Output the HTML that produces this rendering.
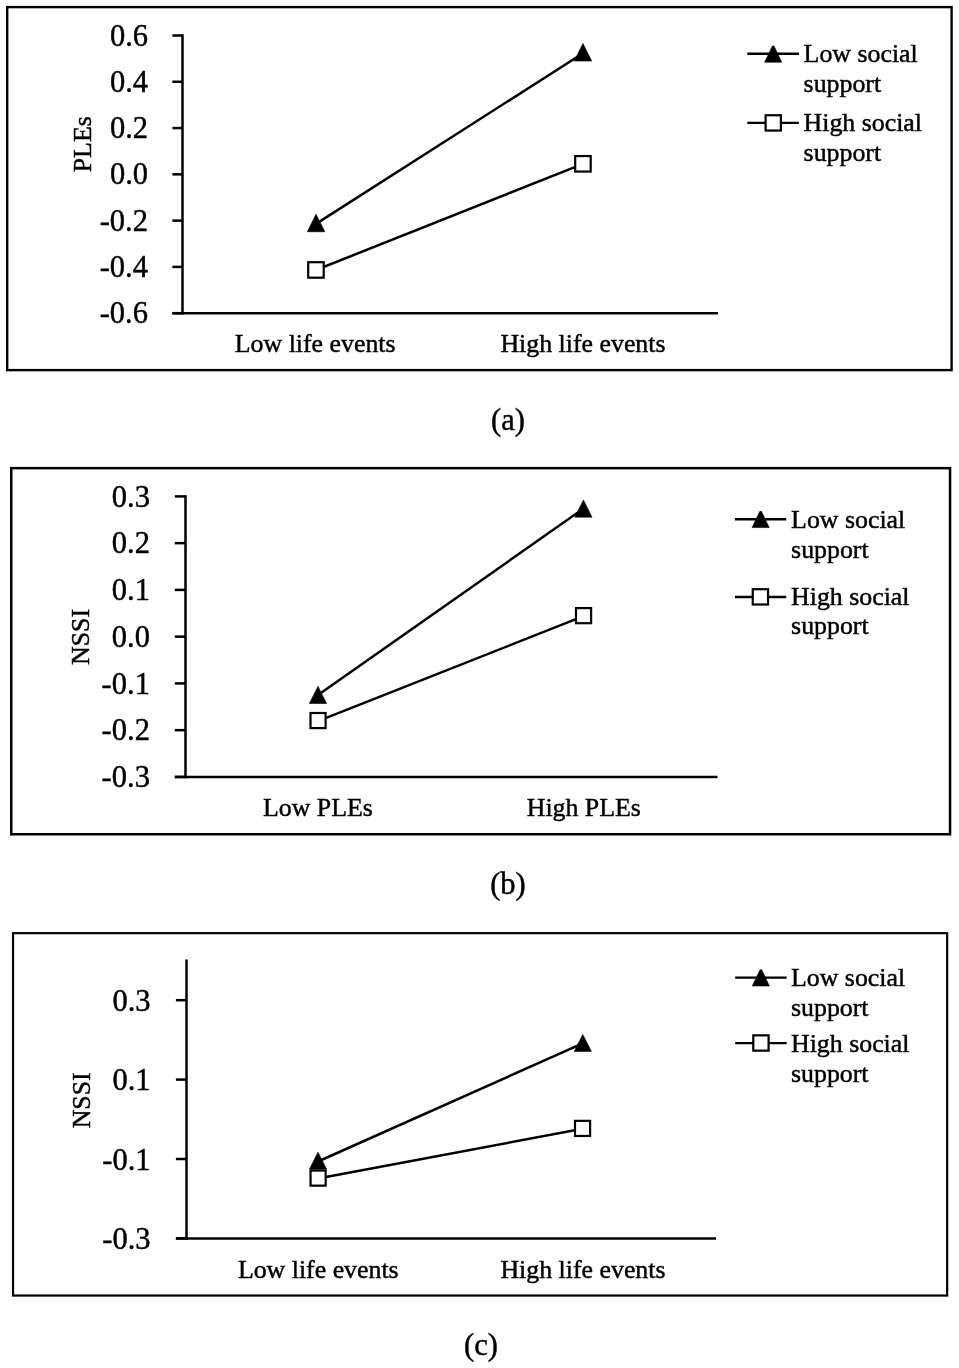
<!DOCTYPE html>
<html><head><meta charset="utf-8"><title>Simple slopes of social support</title>
<style>
html,body{margin:0;padding:0;background:#fff;}
svg{display:block;}
text{font-family:"Liberation Serif","Times New Roman",serif;fill:#000;stroke:#000;stroke-width:0.45px;}
</style></head>
<body>
<svg width="959" height="1368" viewBox="0 0 959 1368">
<rect width="959" height="1368" fill="#fff"/>
<rect x="7.2" y="7.1" width="944.40" height="363.00" fill="none" stroke="#000" stroke-width="2.4"/>
<line x1="182.50" y1="34.30" x2="182.50" y2="314.45" stroke="#000" stroke-width="2.5"/>
<line x1="172.40" y1="313.20" x2="718.00" y2="313.20" stroke="#000" stroke-width="2.5"/>
<line x1="172.40" y1="35.50" x2="182.50" y2="35.50" stroke="#000" stroke-width="2.5"/>
<text x="148.00" y="45.60" text-anchor="end" font-size="30.5">0.6</text>
<line x1="172.40" y1="81.78" x2="182.50" y2="81.78" stroke="#000" stroke-width="2.5"/>
<text x="148.00" y="91.88" text-anchor="end" font-size="30.5">0.4</text>
<line x1="172.40" y1="128.06" x2="182.50" y2="128.06" stroke="#000" stroke-width="2.5"/>
<text x="148.00" y="138.16" text-anchor="end" font-size="30.5">0.2</text>
<line x1="172.40" y1="174.34" x2="182.50" y2="174.34" stroke="#000" stroke-width="2.5"/>
<text x="148.00" y="184.44" text-anchor="end" font-size="30.5">0.0</text>
<line x1="172.40" y1="220.62" x2="182.50" y2="220.62" stroke="#000" stroke-width="2.5"/>
<text x="148.00" y="230.72" text-anchor="end" font-size="30.5">-0.2</text>
<line x1="172.40" y1="266.90" x2="182.50" y2="266.90" stroke="#000" stroke-width="2.5"/>
<text x="148.00" y="277.00" text-anchor="end" font-size="30.5">-0.4</text>
<line x1="172.40" y1="313.18" x2="182.50" y2="313.18" stroke="#000" stroke-width="2.5"/>
<text x="148.00" y="323.28" text-anchor="end" font-size="30.5">-0.6</text>
<text transform="translate(90.5,144.25) rotate(-90)" text-anchor="middle" font-size="25.85">PLEs</text>
<line x1="316.00" y1="223.90" x2="583.00" y2="53.20" stroke="#000" stroke-width="2.5"/>
<polygon points="307.30,231.75 316.05,214.15 324.80,231.75" fill="#000" stroke="#000" stroke-width="0.6" stroke-linejoin="round"/>
<polygon points="574.20,61.05 582.95,43.45 591.70,61.05" fill="#000" stroke="#000" stroke-width="0.6" stroke-linejoin="round"/>
<line x1="316.00" y1="270.00" x2="583.00" y2="163.80" stroke="#000" stroke-width="2.5"/>
<rect x="308.20" y="262.20" width="15.50" height="15.50" fill="#fff" stroke="#000" stroke-width="2.2"/>
<rect x="575.20" y="156.05" width="15.50" height="15.50" fill="#fff" stroke="#000" stroke-width="2.2"/>
<text x="315.20" y="351.60" text-anchor="middle" font-size="25.85">Low life events</text>
<text x="583.00" y="351.60" text-anchor="middle" font-size="25.85">High life events</text>
<line x1="747.30" y1="53.80" x2="798.90" y2="53.80" stroke="#000" stroke-width="2.4"/>
<polygon points="764.65,62.20 772.40,46.00 774.00,46.00 781.75,62.20" fill="#000" stroke="#000" stroke-width="0.6" stroke-linejoin="round"/>
<line x1="747.30" y1="122.90" x2="798.90" y2="122.90" stroke="#000" stroke-width="2.4"/>
<rect x="765.60" y="115.25" width="15.30" height="15.30" fill="#fff" stroke="#000" stroke-width="2.2"/>
<text x="803.60" y="61.60" font-size="25.85">Low social</text>
<text x="803.60" y="92.00" font-size="25.85">support</text>
<text x="803.60" y="131.00" font-size="25.85">High social</text>
<text x="803.60" y="161.00" font-size="25.85">support</text>
<text x="508.00" y="429.50" text-anchor="middle" font-size="30.5">(a)</text>
<rect x="11.25" y="468.15" width="938.80" height="366.10" fill="none" stroke="#000" stroke-width="2.5"/>
<line x1="185.50" y1="495.15" x2="185.50" y2="778.15" stroke="#000" stroke-width="2.5"/>
<line x1="174.80" y1="776.90" x2="717.50" y2="776.90" stroke="#000" stroke-width="2.5"/>
<line x1="174.80" y1="496.40" x2="185.50" y2="496.40" stroke="#000" stroke-width="2.5"/>
<text x="149.90" y="506.60" text-anchor="end" font-size="30.5">0.3</text>
<line x1="174.80" y1="543.15" x2="185.50" y2="543.15" stroke="#000" stroke-width="2.5"/>
<text x="149.90" y="553.35" text-anchor="end" font-size="30.5">0.2</text>
<line x1="174.80" y1="589.90" x2="185.50" y2="589.90" stroke="#000" stroke-width="2.5"/>
<text x="149.90" y="600.10" text-anchor="end" font-size="30.5">0.1</text>
<line x1="174.80" y1="636.65" x2="185.50" y2="636.65" stroke="#000" stroke-width="2.5"/>
<text x="149.90" y="646.85" text-anchor="end" font-size="30.5">0.0</text>
<line x1="174.80" y1="683.40" x2="185.50" y2="683.40" stroke="#000" stroke-width="2.5"/>
<text x="149.90" y="693.60" text-anchor="end" font-size="30.5">-0.1</text>
<line x1="174.80" y1="730.15" x2="185.50" y2="730.15" stroke="#000" stroke-width="2.5"/>
<text x="149.90" y="740.35" text-anchor="end" font-size="30.5">-0.2</text>
<line x1="174.80" y1="776.90" x2="185.50" y2="776.90" stroke="#000" stroke-width="2.5"/>
<text x="149.90" y="787.10" text-anchor="end" font-size="30.5">-0.3</text>
<text transform="translate(88.9,636.9) rotate(-90)" text-anchor="middle" font-size="25.85">NSSI</text>
<line x1="318.00" y1="694.90" x2="583.50" y2="508.60" stroke="#000" stroke-width="2.5"/>
<polygon points="309.40,703.50 318.00,686.30 326.60,703.50" fill="#000" stroke="#000" stroke-width="0.6" stroke-linejoin="round"/>
<polygon points="574.85,517.15 583.45,499.95 592.05,517.15" fill="#000" stroke="#000" stroke-width="0.6" stroke-linejoin="round"/>
<line x1="318.00" y1="721.10" x2="583.50" y2="616.20" stroke="#000" stroke-width="2.5"/>
<rect x="310.50" y="713.00" width="15.10" height="15.10" fill="#fff" stroke="#000" stroke-width="2.2"/>
<rect x="576.00" y="608.10" width="15.10" height="15.10" fill="#fff" stroke="#000" stroke-width="2.2"/>
<text x="317.90" y="815.60" text-anchor="middle" font-size="25.85">Low PLEs</text>
<text x="583.80" y="815.60" text-anchor="middle" font-size="25.85">High PLEs</text>
<line x1="734.90" y1="519.20" x2="786.20" y2="519.20" stroke="#000" stroke-width="2.4"/>
<polygon points="752.10,527.55 759.85,511.35 761.45,511.35 769.20,527.55" fill="#000" stroke="#000" stroke-width="0.6" stroke-linejoin="round"/>
<line x1="734.90" y1="597.00" x2="786.20" y2="597.00" stroke="#000" stroke-width="2.4"/>
<rect x="752.75" y="589.20" width="15.30" height="15.30" fill="#fff" stroke="#000" stroke-width="2.2"/>
<text x="791.10" y="527.80" font-size="25.85">Low social</text>
<text x="791.10" y="557.50" font-size="25.85">support</text>
<text x="791.10" y="605.20" font-size="25.85">High social</text>
<text x="791.10" y="634.40" font-size="25.85">support</text>
<text x="508.00" y="894.10" text-anchor="middle" font-size="30.5">(b)</text>
<rect x="13.05" y="933.15" width="934.10" height="362.40" fill="none" stroke="#000" stroke-width="2.2"/>
<line x1="186.50" y1="959.40" x2="186.50" y2="1239.65" stroke="#000" stroke-width="2.5"/>
<line x1="175.90" y1="1238.40" x2="716.00" y2="1238.40" stroke="#000" stroke-width="2.5"/>
<line x1="175.90" y1="1000.20" x2="186.50" y2="1000.20" stroke="#000" stroke-width="2.5"/>
<text x="150.60" y="1010.80" text-anchor="end" font-size="30.5">0.3</text>
<line x1="175.90" y1="1079.60" x2="186.50" y2="1079.60" stroke="#000" stroke-width="2.5"/>
<text x="150.60" y="1090.20" text-anchor="end" font-size="30.5">0.1</text>
<line x1="175.90" y1="1159.00" x2="186.50" y2="1159.00" stroke="#000" stroke-width="2.5"/>
<text x="150.60" y="1169.60" text-anchor="end" font-size="30.5">-0.1</text>
<line x1="175.90" y1="1238.40" x2="186.50" y2="1238.40" stroke="#000" stroke-width="2.5"/>
<text x="150.60" y="1249.00" text-anchor="end" font-size="30.5">-0.3</text>
<text transform="translate(90,1100.3) rotate(-90)" text-anchor="middle" font-size="25.85">NSSI</text>
<line x1="318.00" y1="1161.50" x2="582.70" y2="1043.30" stroke="#000" stroke-width="2.5"/>
<polygon points="309.40,1169.20 318.00,1152.20 326.60,1169.20" fill="#000" stroke="#000" stroke-width="0.6" stroke-linejoin="round"/>
<polygon points="574.20,1051.40 582.80,1034.40 591.40,1051.40" fill="#000" stroke="#000" stroke-width="0.6" stroke-linejoin="round"/>
<line x1="318.00" y1="1178.40" x2="582.60" y2="1128.80" stroke="#000" stroke-width="2.5"/>
<rect x="310.55" y="1170.55" width="15.10" height="15.10" fill="#fff" stroke="#000" stroke-width="2.2"/>
<rect x="575.00" y="1120.85" width="15.10" height="15.10" fill="#fff" stroke="#000" stroke-width="2.2"/>
<text x="318.30" y="1277.60" text-anchor="middle" font-size="25.85">Low life events</text>
<text x="583.00" y="1277.60" text-anchor="middle" font-size="25.85">High life events</text>
<line x1="735.20" y1="977.60" x2="786.70" y2="977.60" stroke="#000" stroke-width="2.4"/>
<polygon points="752.30,986.00 760.05,969.80 761.65,969.80 769.40,986.00" fill="#000" stroke="#000" stroke-width="0.6" stroke-linejoin="round"/>
<line x1="735.20" y1="1043.10" x2="786.70" y2="1043.10" stroke="#000" stroke-width="2.4"/>
<rect x="753.30" y="1035.35" width="15.30" height="15.30" fill="#fff" stroke="#000" stroke-width="2.2"/>
<text x="791.00" y="985.70" font-size="25.85">Low social</text>
<text x="791.00" y="1015.90" font-size="25.85">support</text>
<text x="791.00" y="1051.70" font-size="25.85">High social</text>
<text x="791.00" y="1082.10" font-size="25.85">support</text>
<text x="481.00" y="1355.10" text-anchor="middle" font-size="30.5">(c)</text>
</svg>
</body></html>
